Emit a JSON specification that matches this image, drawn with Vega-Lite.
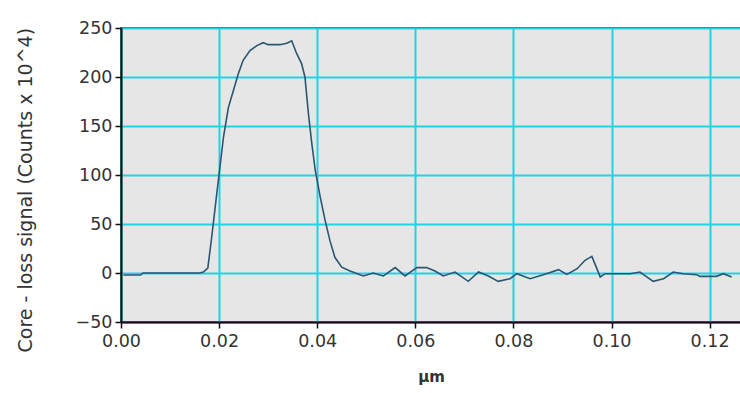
{
  "$schema": "https://vega.github.io/schema/vega-lite/v6.json",
  "autosize": {"type": "none"},
  "padding": {"left": 121, "top": 28, "right": 0, "bottom": 71},
  "width": 620,
  "height": 294,
  "background": "#ffffff",
  "config": {
    "view": {"fill": "#e6e6e6", "stroke": "#111111", "strokeWidth": 1.5},
    "axis": {
      "labelFont": "DejaVu Sans",
      "titleFont": "DejaVu Sans",
      "labelColor": "#333333",
      "titleColor": "#333333",
      "labelFontSize": 17.5,
      "domainColor": "#111111",
      "domainWidth": 2,
      "tickColor": "#111111",
      "tickWidth": 1.5,
      "tickSize": 6,
      "gridColor": "#1fd3e3",
      "gridWidth": 2,
      "gridOpacity": 1
    }
  },
  "data": {
    "values": [
      {"x": 0.0005, "y": -2},
      {"x": 0.004, "y": -2},
      {"x": 0.0045, "y": 0},
      {"x": 0.016, "y": 0},
      {"x": 0.0168, "y": 1},
      {"x": 0.0177, "y": 5},
      {"x": 0.0185, "y": 37},
      {"x": 0.0192, "y": 67},
      {"x": 0.02, "y": 101},
      {"x": 0.0209, "y": 139},
      {"x": 0.0219, "y": 169},
      {"x": 0.0229, "y": 186},
      {"x": 0.0239, "y": 203},
      {"x": 0.0249, "y": 217},
      {"x": 0.0263, "y": 227},
      {"x": 0.0277, "y": 232},
      {"x": 0.029, "y": 235},
      {"x": 0.03, "y": 233},
      {"x": 0.0324, "y": 233},
      {"x": 0.0338, "y": 234.5},
      {"x": 0.0348, "y": 237},
      {"x": 0.0358, "y": 224},
      {"x": 0.0368, "y": 214},
      {"x": 0.0375, "y": 200},
      {"x": 0.0382, "y": 163},
      {"x": 0.0389, "y": 132},
      {"x": 0.0396, "y": 105},
      {"x": 0.0406, "y": 78},
      {"x": 0.0416, "y": 54},
      {"x": 0.0426, "y": 33},
      {"x": 0.0436, "y": 16},
      {"x": 0.045, "y": 6},
      {"x": 0.0467, "y": 2},
      {"x": 0.0494, "y": -3},
      {"x": 0.0514, "y": 0},
      {"x": 0.0535, "y": -3},
      {"x": 0.0559, "y": 5.5},
      {"x": 0.0579, "y": -3},
      {"x": 0.0603, "y": 5.5},
      {"x": 0.0623, "y": 5.5},
      {"x": 0.064, "y": 2},
      {"x": 0.0657, "y": -3},
      {"x": 0.0681, "y": 1},
      {"x": 0.0708, "y": -8.5},
      {"x": 0.0729, "y": 1},
      {"x": 0.0749, "y": -3},
      {"x": 0.0769, "y": -8.5},
      {"x": 0.0793, "y": -5.8},
      {"x": 0.0807, "y": -0.7},
      {"x": 0.0834, "y": -5.8},
      {"x": 0.0861, "y": -1.7},
      {"x": 0.0892, "y": 3.4},
      {"x": 0.0909, "y": -1.4},
      {"x": 0.093, "y": 4.4},
      {"x": 0.0946, "y": 13},
      {"x": 0.096, "y": 17},
      {"x": 0.0977, "y": -4},
      {"x": 0.0987, "y": -0.7},
      {"x": 0.1038, "y": -0.7},
      {"x": 0.1058, "y": 1},
      {"x": 0.1085, "y": -8.5},
      {"x": 0.1106, "y": -5.8},
      {"x": 0.1126, "y": 1},
      {"x": 0.1146, "y": -0.7},
      {"x": 0.1174, "y": -1.7},
      {"x": 0.118, "y": -3.4},
      {"x": 0.1214, "y": -3.4},
      {"x": 0.1228, "y": -0.7},
      {"x": 0.1245, "y": -4}
    ]
  },
  "mark": {"type": "line", "color": "#2b5672", "strokeWidth": 1.6, "interpolate": "linear"},
  "encoding": {
    "x": {
      "field": "x",
      "type": "quantitative",
      "scale": {"domain": [0, 0.1264], "nice": false, "zero": false},
      "axis": {
        "values": [0, 0.02, 0.04, 0.06, 0.08, 0.1, 0.12],
        "format": ".2f",
        "title": "µm",
        "titleFontSize": 15,
        "titleFontWeight": 600,
        "titlePadding": 20,
        "labelPadding": 4,
        "labelFlush": false
      }
    },
    "y": {
      "field": "y",
      "type": "quantitative",
      "scale": {"domain": [-50, 250], "nice": false, "zero": false},
      "axis": {
        "values": [-50, 0, 50, 100, 150, 200, 250],
        "title": "Core - loss signal (Counts x 10^4)",
        "titleFontSize": 19,
        "titleFontWeight": "normal",
        "titleAngle": 270,
        "titleAlign": "left",
        "titleBaseline": "middle",
        "titleX": -96,
        "titleY": 324,
        "labelPadding": 3,
        "labelFlush": false
      }
    }
  }
}
